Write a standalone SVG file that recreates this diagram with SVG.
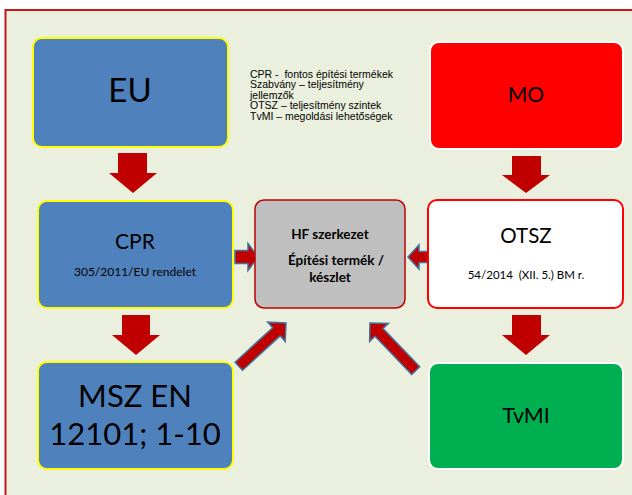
<svg xmlns="http://www.w3.org/2000/svg" width="632" height="495" viewBox="0 0 632 495">
<style>
.box{stroke-width:2}
.blue{fill:#4f81bd;stroke:#ffff00}
.t{font-family:Lato,"Open Sans",sans-serif;fill:#000;text-anchor:middle}
.note{font-family:"Liberation Sans",Arial,sans-serif;font-size:10.5px;fill:#000}
.down{fill:#c00000}
.side{fill:#c00000;stroke:#41719c;stroke-width:1.5;stroke-linejoin:miter}
</style>
<rect x="0" y="0" width="632" height="495" fill="#ffffff"/>
<rect x="5.5" y="10" width="640" height="500" fill="#ebf0de" stroke="#c8161d" stroke-width="2"/>

<g id="connectors">
  <polygon class="down" points="118,153 147,153 147,173 157,173 133,193 109,173 118,173"/>
  <polygon class="down" points="122,315 150,315 150,335 160,335 136,355 112,335 122,335"/>
  <polygon class="down" points="512,156 541,156 541,175 550,175 526,193 502,175 512,175"/>
  <polygon class="down" points="512,315 541,315 541,335 550,335 526,355 502,335 512,335"/>
  <polygon class="side" points="235,250.5 248,250.5 248,243.5 258,257 248,270.5 248,263.5 235,263.5"/>
  <polygon class="side" points="430,251.5 419,251.5 419,245 408,257 419,269 419,262.5 430,262.5"/>
  <polygon class="side" transform="translate(286,323) rotate(-42.5)" points="-64,-5.5 -13,-5.5 -13,-13 0,0 -13,13 -13,5.5 -64,5.5"/>
  <polygon class="side" transform="translate(370,323) rotate(-133.8)" points="-66,-5.5 -13,-5.5 -13,-13 0,0 -13,13 -13,5.5 -66,5.5"/>
</g>

<g id="EU">
  <rect class="box blue" x="33" y="38" width="195" height="109" rx="9"/>
  <text class="t" x="130" y="102" font-size="33">EU</text>
</g>
<g id="notes">
  <text class="note" x="250" y="77.5" xml:space="preserve">CPR -  fontos építési termékek</text>
  <text class="note" x="250" y="88">Szabvány – teljesítmény</text>
  <text class="note" x="250" y="98.5">jellemzők</text>
  <text class="note" x="250" y="109">OTSZ – teljesítmény szintek</text>
  <text class="note" x="250" y="120">TvMI – megoldási lehetőségek</text>
</g>
<g id="MO">
  <rect class="box" x="430" y="42" width="193" height="107" rx="9" fill="#ff0000" stroke="#ffffff"/>
  <text class="t" x="526" y="102" font-size="21">MO</text>
</g>
<g id="CPR">
  <rect class="box blue" x="38" y="201" width="195" height="107" rx="9"/>
  <text class="t" x="135" y="249" font-size="21">CPR</text>
  <text class="t" x="135" y="276" font-size="12">305/2011/EU rendelet</text>
</g>
<g id="HF">
  <rect x="255" y="200" width="150" height="108" rx="9" fill="#bfbfbf" stroke="#c00000" stroke-width="1.5"/>
  <text class="t" x="330" y="239" font-size="13.5" font-weight="bold">HF szerkezet</text>
  <text class="t" x="336" y="265" font-size="13.5" font-weight="bold">Építési termék /</text>
  <text class="t" x="330" y="282" font-size="13.5" font-weight="bold">készlet</text>
</g>
<g id="OTSZ">
  <rect class="box" x="428" y="200" width="195" height="108" rx="9" fill="#ffffff" stroke="#ff0000"/>
  <text class="t" x="526" y="243" font-size="20.5">OTSZ</text>
  <text class="t" x="526" y="279" font-size="11.5" xml:space="preserve">54/2014  (XII. 5.) BM r.</text>
</g>
<g id="MSZ">
  <rect class="box blue" x="38" y="362" width="195" height="107" rx="9"/>
  <text class="t" x="135" y="407" font-size="31">MSZ EN</text>
  <text class="t" x="135" y="445" font-size="31">12101; 1-10</text>
</g>
<g id="TvMI">
  <rect class="box" x="429" y="363" width="194" height="106" rx="9" fill="#00b050" stroke="#ffffff"/>
  <text class="t" x="526" y="423" font-size="21.5">TvMI</text>
</g>
</svg>
